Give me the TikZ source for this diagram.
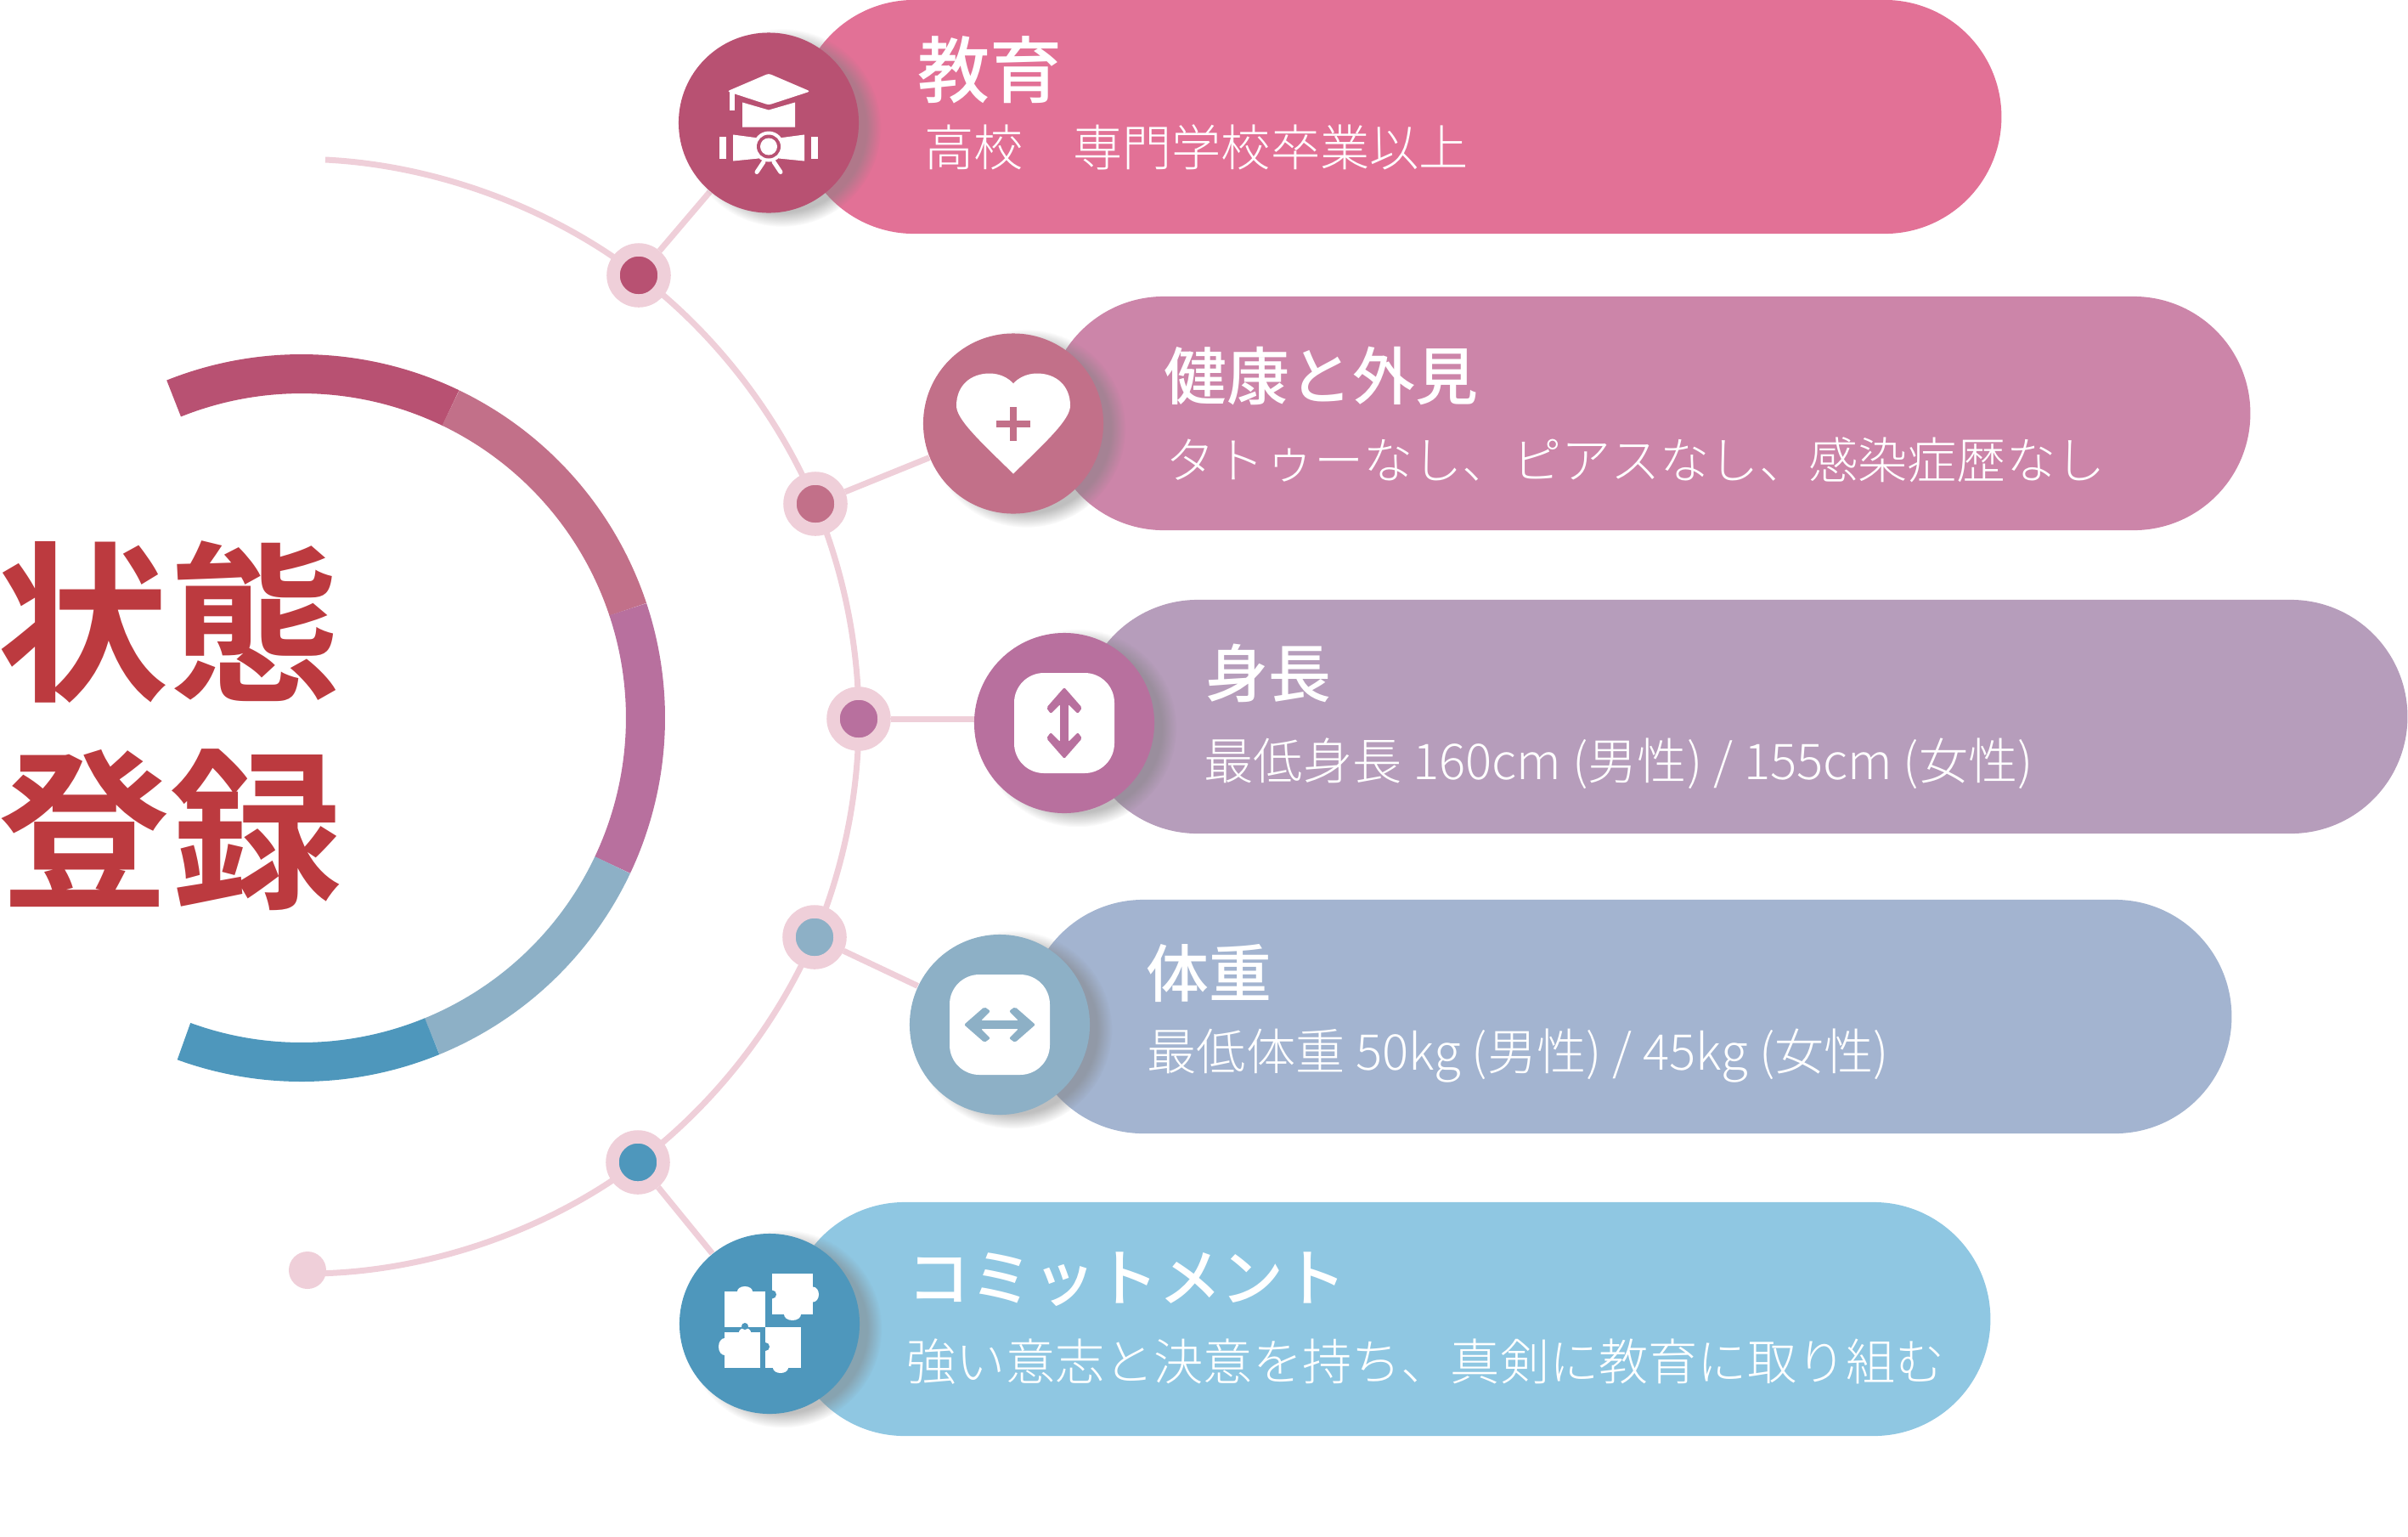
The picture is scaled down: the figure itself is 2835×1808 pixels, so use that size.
\documentclass[tikz,border=0pt]{standalone}
\usepackage{fontspec}
\usetikzlibrary{shapes.misc,shadows,backgrounds}
\newfontfamily\bodyfont{Noto Sans CJK JP Light}
\newfontfamily\headfont{Noto Sans CJK JP Medium}
\newfontfamily\bigfont{Noto Sans CJK JP Bold}
\definecolor{wirepink}{HTML}{EFCFD9}
\definecolor{titlered}{HTML}{BC3A3F}
\definecolor{toneA}{HTML}{B85172}
\definecolor{toneB}{HTML}{C27089}
\definecolor{toneC}{HTML}{B8709E}
\definecolor{toneD}{HTML}{8DB0C6}
\definecolor{toneE}{HTML}{4E97BC}
\definecolor{pillA}{HTML}{E27196}
\definecolor{pillB}{HTML}{CC85A9}
\definecolor{pillC}{HTML}{B69DBB}
\definecolor{pillD}{HTML}{A3B4D0}
\definecolor{pillE}{HTML}{8FC7E2}
\tikzset{
  pillbox/.style={rounded rectangle, minimum height=2.75cm, inner sep=0pt},
  badge/.style={circle, minimum size=2.12cm, inner sep=0pt,
    circular drop shadow={shadow xshift=4pt, shadow yshift=-1.5pt, shadow scale=1.1, opacity=.5}},
  dotnode/.style={circle, minimum size=.6cm, inner sep=0pt, draw=wirepink, line width=.155cm},
  headtext/.style={anchor=west, inner sep=0pt, text=white, font=\headfont\fontsize{21}{24}\selectfont},
  subtext/.style={anchor=west, inner sep=0pt, text=white, font=\bodyfont\fontsize{16.55}{20}\selectfont},
  bigtext/.style={inner sep=0pt, text=titlered, font=\bigfont\fontsize{57.5}{70}\selectfont},
  wire/.style={draw=wirepink, line width=.07cm, looseness=.85},
  ringseg/.style={line width=.46cm}
}
\newcommand{\dblarrow}{
  \fill (-5,-25) rectangle (5,25);
  \fill[rounded corners=.02cm] (0,-42) -- (21,-18) -- (16,-11) -- (5,-22) -- (-5,-22) -- (-16,-11) -- (-21,-18) -- cycle;
  \fill[rounded corners=.02cm] (0,42) -- (21,18) -- (16,11) -- (5,22) -- (-5,22) -- (-16,11) -- (-21,18) -- cycle;
}
\begin{document}
\begin{tikzpicture}[x=.01cm, y=-.01cm]
  \useasboundingbox (0,0) rectangle (2835,1808);

  \foreach \a/\b/\c in {-111.8/-64.3/toneA, -64.3/-18.4/toneB, -18.4/25.3/toneC, 25.3/67.7/toneD, 67.7/110/toneE}
    \draw[ringseg, draw=\c] ([shift={(\a:405)}]355,845) arc[start angle=\a, end angle=\b, radius=405];

  \node[bigtext] (title1) at (199,732) {状態};
  \node[bigtext] (title2) at (201,977) {登録};

  \node[pillbox, fill=pillA, minimum width=14.17cm] (pill1) at (1647.5,137.5) {};
  \node[pillbox, fill=pillB, minimum width=14.16cm] (pill2) at (1941,486.5) {};
  \node[pillbox, fill=pillC, minimum width=15.61cm] (pill3) at (2053.5,843.5) {};
  \node[pillbox, fill=pillD, minimum width=14.18cm] (pill4) at (1918,1196.5) {};
  \node[pillbox, fill=pillE, minimum width=14.15cm] (pill5) at (1635.5,1552.5) {};

  \node[badge, fill=toneA] (c1) at (905,144.5) {};
  \node[badge, fill=toneB] (c2) at (1193,498.5) {};
  \node[badge, fill=toneC] (c3) at (1253,851) {};
  \node[badge, fill=toneD] (c4) at (1177,1206) {};
  \node[badge, fill=toneE] (c5) at (906,1558) {};

  \node[dotnode, fill=toneA] (n1) at (752,324) {};
  \node[dotnode, fill=toneB] (n2) at (960,593) {};
  \node[dotnode, fill=toneC] (n3) at (1011,846) {};
  \node[dotnode, fill=toneD] (n4) at (959,1103) {};
  \node[dotnode, fill=toneE] (n5) at (751,1368) {};
  \node[circle, fill=wirepink, minimum size=.44cm, inner sep=0pt] (tail) at (362,1495) {};
  \coordinate (arctop) at (383,188);
  \coordinate (arcend) at (368,1499);

  \begin{scope}[on background layer]
    \draw[wire] (arctop) to[bend left=17.4] (n1.center) to[bend left=15] (n2.center)
      to[bend left=11.35] (n3.center) to[bend left=11.55] (n4.center)
      to[bend left=14.9] (n5.center) to[bend left=18.25] (arcend);
    \draw[wire] (n1) -- (c1);
    \draw[wire] (n2) -- (c2);
    \draw[wire] (n3) -- (n3 -| c3.center);
    \draw[wire] (n4) -- (c4);
    \draw[wire] (n5) -- (c5);
  \end{scope}

  \node[headtext] (head1) at (1080,82) {\fontsize{24.2}{26}\selectfont 教育};
  \node[subtext] (sub1) at (1088,173) {高校　専門学校卒業以上};
  \node[headtext] (head2) at (1370,443) {健康と外見};
  \node[subtext] (sub2) at (1372,541) {タトゥーなし、ピアスなし、感染症歴なし};
  \node[headtext] (head3) at (1419,792) {身長};
  \node[subtext] (sub3) at (1417,899) {最低身長 160cm (男性) / 155cm (女性)};
  \node[headtext] (head4) at (1349,1145) {体重};
  \node[subtext] (sub4) at (1350,1243) {最低体重 50kg (男性) / 45kg (女性)};
  \node[headtext] (head5) at (1068,1506) {コミットメント};
  \node[subtext] (sub5) at (1067,1603) {強い意志と決意を持ち、真剣に教育に取り組む};

  \begin{scope}[shift={(c1.center)}, white]
    \fill[rounded corners=.03cm] (0,-58) -- (49,-37) -- (0,-21) -- (-49,-37) -- cycle;
    \fill (-46,-38) rectangle (-40,-15);
    \fill (-31,-24) -- (0,-15) -- (31,-24) -- (31,5) -- (-31,5) -- cycle;
    \fill (-58,16) rectangle (-50,42);
    \fill (50,16) rectangle (58,42);
    \fill (-42,14) -- (-12,18) -- (-12,42) -- (-42,45) -- cycle;
    \fill (42,14) -- (12,18) -- (12,42) -- (42,45) -- cycle;
    \fill (0,28) circle (18);
    \fill[toneA] (0,28) circle (14);
    \fill (0,28) circle (10);
    \draw[line width=.05cm, line cap=round] (-6,46) -- (-14,58);
    \draw[line width=.05cm, line cap=round] (6,46) -- (14,58);
  \end{scope}

  \begin{scope}[shift={(c2.center)}]
    \fill[white] (0,59) .. controls (-40,20) and (-67,-5) .. (-67,-21)
      .. controls (-67,-45) and (-50,-59) .. (-28,-59)
      .. controls (-15,-59) and (-5,-53) .. (0,-47)
      .. controls (5,-53) and (15,-59) .. (28,-59)
      .. controls (50,-59) and (67,-45) .. (67,-21)
      .. controls (67,-5) and (40,20) .. (0,59) -- cycle;
    \fill[toneB] (-4,-20) rectangle (4,20);
    \fill[toneB] (-20,-4) rectangle (20,4);
  \end{scope}

  \begin{scope}[shift={(c3.center)}]
    \fill[white, rounded corners=.35cm] (-59,-59) rectangle (59,59);
    \begin{scope}[toneC]
      \dblarrow
    \end{scope}
  \end{scope}

  \begin{scope}[shift={(c4.center)}]
    \fill[white, rounded corners=.35cm] (-59,-59) rectangle (59,59);
    \begin{scope}[toneD, rotate=90]
      \dblarrow
    \end{scope}
  \end{scope}

  \begin{scope}[shift={(c5.center)}, white]
    \fill (3,-59) rectangle (51,-11);
    \fill (51,-34.5) ellipse (7 and 9);
    \fill (27,-11) ellipse (10 and 7);
    \fill (-53,-38) rectangle (-5,3.6);
    \fill (-29,-38) ellipse (9 and 6);
    \fill (-53,10) rectangle (-11,52);
    \fill (-53,27) ellipse (7 and 10);
    \fill (-29,10) ellipse (7 and 5);
    \fill (-5,3.6) rectangle (37,52);
    \fill (13,52) ellipse (9 and 6);
    \fill[toneE] (3,-34.5) circle (5);
    \fill[toneE] (-5,27) circle (5);
    \fill[toneE] (-29,3) circle (4);
  \end{scope}
\end{tikzpicture}
\end{document}
